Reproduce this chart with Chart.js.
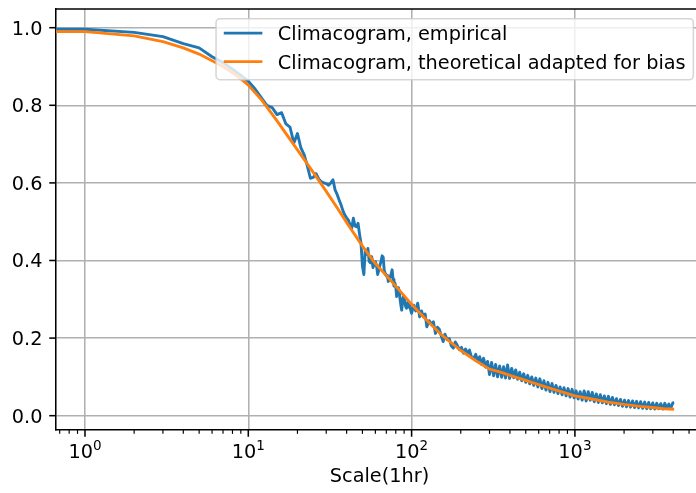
<!DOCTYPE html>
<html><head><meta charset="utf-8">
<script src="https://cdn.jsdelivr.net/npm/chart.js@4"></script>
<style>html,body{margin:0;padding:0;background:#fff}canvas{display:block}</style>
</head><body>
<canvas id="c" width="696" height="493"></canvas>
<script>
// ---------------- data ----------------
const empScale = [0.6,1,2,3,4,5,6,7,8,9,10,11,12,13,14,15,16,17,18,19,20,21,22,23,24,25,26,27,28,29,30,
31,32,33,34,35,36,37,38,39,40,41,42,43,44,45,46,47,48,49,50,51,52,53,54,55,56,57,58,59,60,
61,62,63,64,65,66,67,68,69,70,71,72,73,74,75,76,77,78,79,80,81,82,83,84,85,86,87,88,89,90,
91,92,93,94,95,96,97,98,99,
100,103,106,109,112,115,118,121,124,128,132,136,140,144,148,152,156,160,165,170,175,180,185,190,196,202,208,214,220,226,233,240,247,254,261,268,276,284,292,
300,309,318,327,336,346,356,366,376,387,398,410,422,434,446,459,472,486,500,514,529,544,560,576,593,610,628,646,665,684,704,724,745,766,788,811,834,858,883,908,934,961,989,
1017,1046,1076,1107,1139,1172,1206,1241,1277,1314,1352,1391,1431,1472,1514,1558,1603,1649,1697,1746,1796,1848,1901,1956,2012,2070,2130,2191,2254,2319,2386,2455,2526,2599,2674,2751,2830,2912,2996,3082,3171,3262,3356,3453,3552,3654,3759,3867,3978,4050];
const empValue = [0.996,0.996,0.988,0.977,0.959,0.948,0.925,0.910,0.893,0.877,0.862,0.842,0.820,0.800,0.794,0.776,0.781,0.752,0.744,0.703,0.727,0.690,0.672,0.643,0.612,0.614,0.624,0.610,0.603,0.600,0.598,
0.594,0.600,0.608,0.582,0.570,0.556,0.543,0.528,0.517,0.510,0.504,0.492,0.483,0.509,0.489,0.487,0.496,0.468,0.444,0.386,0.364,0.426,0.416,0.431,0.398,0.394,0.410,0.382,0.390,0.397,
0.386,0.364,0.375,0.388,0.398,0.412,0.408,0.374,0.366,0.360,0.362,0.346,0.352,0.358,0.366,0.376,0.351,0.334,0.342,0.333,0.307,0.318,0.330,0.320,0.300,0.284,0.272,0.296,0.307,0.298,
0.290,0.281,0.277,0.289,0.292,0.280,0.286,0.277,0.270,
0.264,0.285,0.270,0.290,0.255,0.270,0.255,0.262,0.229,0.245,0.236,0.242,0.212,0.228,0.222,0.205,0.191,0.210,0.196,0.199,0.180,0.174,0.190,0.182,0.170,0.176,0.161,0.172,0.160,0.169,0.150,0.148,0.158,0.140,0.152,0.132,0.148,0.125,0.140,
0.106,0.137,0.103,0.132,0.100,0.128,0.099,0.126,0.097,0.131,0.096,0.122,0.098,0.118,0.094,0.112,0.090,0.108,0.086,0.104,0.082,0.100,0.078,0.097,0.074,0.095,0.070,0.090,0.066,0.086,0.062,0.083,0.060,0.078,0.057,0.074,0.054,0.072,0.051,0.070,0.048,0.068,0.046,
0.064,0.043,0.062,0.040,0.064,0.038,0.062,0.040,0.060,0.036,0.056,0.034,0.054,0.033,0.051,0.031,0.050,0.029,0.047,0.028,0.044,0.026,0.042,0.024,0.040,0.023,0.039,0.022,0.038,0.021,0.037,0.020,0.036,0.019,0.035,0.018,0.034,0.018,0.033,0.017,0.032,0.018,0.031,0.017,0.032,0.019,0.030,0.020,0.033,0.034];

const theoScale = [0.6,1,2,3,4,5,6,7,8,9,10,12,15,20,25,30,35,40,50,60,70,80,100,120,150,200,250,300,350,400,500,600,700,850,1000,1200,1600,2000,2500,3000,3500,4050];
const theoValue = [0.990,0.990,0.979,0.964,0.948,0.932,0.915,0.900,0.884,0.868,0.852,0.815,0.760,0.685,0.627,0.578,0.536,0.498,0.437,0.392,0.361,0.334,0.287,0.252,0.211,0.168,0.140,0.120,0.112,0.104,0.091,0.080,0.071,0.060,0.051,0.045,0.035,0.029,0.024,0.021,0.018,0.0165];

const xMajorTicks = [1, 10, 100, 1000];
const xTickBase = '10';
const xTickExponents = ['0', '1', '2', '3'];
const yTicks = [0.0, 0.2, 0.4, 0.6, 0.8, 1.0];
const yTickLabels = ['0.0', '0.2', '0.4', '0.6', '0.8', '1.0'];
const seriesLabels = ['Climacogram, empirical', 'Climacogram, theoretical adapted for bias'];
const xTitle = 'Scale(1hr)';

// ---------------- style ----------------
const FONT = '"DejaVu Sans", sans-serif';
const FS = 19.3;           // 10pt
const PT = 1.93;           // px per pt
const C_BLUE = '#1f77b4', C_ORANGE = '#ff7f0e';
const X_MIN = 0.6645, X_MAX = 5514;
const Y_MIN = -0.0369, Y_MAX = 1.0482;
const AXES_RIGHT = 703;    // true right spine (outside the picture)

const overlay = {
  id: 'overlay',
  afterDraw(chart) {
    const ctx = chart.ctx, a = chart.chartArea, xs = chart.scales.x, ys = chart.scales.y;
    ctx.save();
    ctx.strokeStyle = '#000';
    // top spine
    ctx.lineWidth = 0.8 * PT;
    ctx.beginPath(); ctx.moveTo(a.left, a.top); ctx.lineTo(a.right, a.top); ctx.stroke();
    // x ticks (major + minor)
    for (let e = -1; e <= 4; e++) {
      for (let m = 1; m <= 9; m++) {
        const v = m * Math.pow(10, e);
        if (v < xs.min || v > xs.max) continue;
        const px = xs.getPixelForValue(v);
        ctx.lineWidth = (m === 1 ? 0.8 : 0.6) * PT;
        ctx.beginPath();
        ctx.moveTo(px, a.bottom);
        ctx.lineTo(px, a.bottom + (m === 1 ? 3.5 : 2) * PT);
        ctx.stroke();
      }
    }
    // y ticks
    ctx.lineWidth = 0.8 * PT;
    yTicks.forEach(v => {
      const py = ys.getPixelForValue(v);
      ctx.beginPath(); ctx.moveTo(a.left - 3.5 * PT, py); ctx.lineTo(a.left, py); ctx.stroke();
    });
    ctx.fillStyle = '#000';
    // y tick labels
    ctx.font = FS + 'px ' + FONT;
    ctx.textAlign = 'right'; ctx.textBaseline = 'alphabetic';
    yTicks.forEach((v, i) => {
      const py = ys.getPixelForValue(v);
      ctx.fillText(yTickLabels[i], a.left - 7 * PT, py + 7);
    });
    // x tick labels 10^k
    ctx.textAlign = 'left';
    xMajorTicks.forEach((v, i) => {
      const px = xs.getPixelForValue(v);
      ctx.font = FS + 'px ' + FONT;
      const wb = ctx.measureText(xTickBase).width;
      ctx.font = (FS * 0.7) + 'px ' + FONT;
      const we = ctx.measureText(xTickExponents[i]).width;
      const x0 = px - (wb + we) / 2;
      ctx.font = FS + 'px ' + FONT;
      ctx.fillText(xTickBase, x0, a.bottom + 28.3);
      ctx.font = (FS * 0.7) + 'px ' + FONT;
      ctx.fillText(xTickExponents[i], x0 + wb, a.bottom + 20);
    });
    // x title
    ctx.font = FS + 'px ' + FONT;
    ctx.textAlign = 'center';
    ctx.fillText(xTitle, (a.left + AXES_RIGHT) / 2, a.bottom + 52);
    // legend
    const pad = 0.4 * FS, hl = 2.0 * FS, htp = 0.8 * FS;
    const tw = Math.max(...seriesLabels.map(s => ctx.measureText(s).width));
    const right = AXES_RIGHT - 0.5 * FS, top = a.top + 0.5 * FS;
    const w = pad + hl + htp + tw + pad, h = 61;
    const left = right - w;
    ctx.beginPath();
    if (ctx.roundRect) ctx.roundRect(left, top, w, h, 0.2 * FS); else ctx.rect(left, top, w, h);
    ctx.fillStyle = 'rgba(255,255,255,0.8)'; ctx.fill();
    ctx.strokeStyle = 'rgba(204,204,204,0.8)'; ctx.lineWidth = 0.8 * PT; ctx.stroke();
    const colors = [C_BLUE, C_ORANGE];
    const rows = [top + 14.5, top + 43];
    ctx.textAlign = 'left';
    seriesLabels.forEach((s, i) => {
      ctx.strokeStyle = colors[i]; ctx.lineWidth = 1.5 * PT; ctx.lineCap = 'butt';
      ctx.beginPath(); ctx.moveTo(left + pad, rows[i]); ctx.lineTo(left + pad + hl, rows[i]); ctx.stroke();
      ctx.fillStyle = '#000';
      ctx.fillText(s, left + pad + hl + htp, rows[i] + 7);
    });
    ctx.restore();
  }
};

const gridOpts = { color: '#b0b0b0', lineWidth: 0.8 * PT, drawTicks: false };
const borderOpts = { display: true, color: '#000', width: 0.8 * PT };

new Chart(document.getElementById('c'), {
  type: 'line',
  data: {
    datasets: [
      { label: seriesLabels[0], data: empScale.map((x, i) => ({ x: x, y: empValue[i] })),
        borderColor: C_BLUE, borderWidth: 1.5 * PT, pointRadius: 0, tension: 0, order: 2,
        borderJoinStyle: 'round', fill: false },
      { label: seriesLabels[1], data: theoScale.map((x, i) => ({ x: x, y: theoValue[i] })),
        borderColor: C_ORANGE, borderWidth: 1.5 * PT, pointRadius: 0, tension: 0, order: 1,
        borderJoinStyle: 'round', fill: false }
    ]
  },
  options: {
    responsive: false, animation: false, devicePixelRatio: 1,
    layout: { padding: { top: 9, left: 0, right: 0, bottom: 0 } },
    plugins: { legend: { display: false }, tooltip: { enabled: false } },
    scales: {
      x: { type: 'logarithmic', min: X_MIN, max: X_MAX,
        afterBuildTicks: s => { s.ticks = xMajorTicks.map(v => ({ value: v })); },
        afterFit: s => { s.height = 63; },
        ticks: { display: false }, grid: gridOpts, border: borderOpts },
      y: { type: 'linear', min: Y_MIN, max: Y_MAX,
        afterBuildTicks: s => { s.ticks = yTicks.map(v => ({ value: v })); },
        afterFit: s => { s.width = 56; },
        ticks: { display: false }, grid: gridOpts, border: borderOpts }
    }
  },
  plugins: [overlay]
});
</script>
</body></html>
